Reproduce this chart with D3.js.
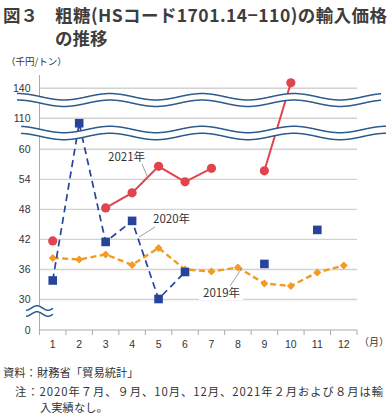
<!DOCTYPE html>
<html><head><meta charset="utf-8">
<script src="https://cdn.jsdelivr.net/npm/d3@7/dist/d3.min.js"></script>
<style>
html,body{margin:0;padding:0;background:#fff;}
svg{display:block;font-family:"Noto Sans CJK JP","Noto Sans",sans-serif;}
</style></head>
<body>
<svg id="c" width="390" height="414"></svg>
<script>
const months = [1,2,3,4,5,6,7,8,9,10,11,12];
const yTicks = [0,30,36,42,48,54,60,110,140];
const v2019 = [38.3,38.0,39.0,36.9,40.3,36.0,35.6,36.4,33.2,32.7,35.4,36.8];
const v2020 = [33.8,102,41.5,45.7,30.1,35.5,null,null,37.1,null,43.9,null];
const v2021 = [41.7,null,48.3,51.3,56.6,53.5,56.2,null,55.7,145.5,null,null];
const seriesNames = ["2019年","2020年","2021年"];

const svg = d3.select("#c");
const textCol = "#333";

// title
svg.append("text").attr("x",3).attr("y",22).attr("font-size",17.5).attr("font-weight","bold").attr("fill","#3d3d3d").text("図３");
const t1 = svg.append("text").attr("x",55).attr("y",22).attr("font-size",17.5).attr("font-weight","bold").attr("fill","#3d3d3d")
  .text("粗糖(HSコード1701.14−110)の輸入価格");
const w = t1.node().getComputedTextLength();
if (Math.abs(w-332) > 4) t1.attr("textLength",332).attr("lengthAdjust","spacing");
svg.append("text").attr("x",55).attr("y",45).attr("font-size",17.5).attr("font-weight","bold").attr("fill","#3d3d3d").text("の推移");

svg.append("text").attr("x",6).attr("y",65).attr("font-size",9.5).attr("fill",textCol).text("（千円/トン）");

// scales
const x = d3.scaleBand().domain(months).range([39.5,357]);
const y = d3.scaleLinear().domain([0,30,60,110,140]).range([330,299.5,149.3,118.3,88.3]);
const cx = m => x(m) + x.bandwidth()/2;

// gridlines
const grid = svg.append("g");
yTicks.filter(t=>t>0).forEach(t=>{
  grid.append("line").attr("x1",39.5).attr("x2",357).attr("y1",y(t)).attr("y2",y(t))
    .attr("stroke","#d2d2d2").attr("stroke-width",1.4);
});

// y axis
const yAxis = d3.axisLeft(y).tickValues(yTicks).tickSize(0).tickPadding(9);
const yg = svg.append("g").attr("transform","translate(39.5,0)").call(yAxis);
yg.select(".domain").attr("d","M0,75V330").attr("stroke","#aaa").attr("stroke-width",1);
yg.selectAll("text").attr("font-size",10.5).attr("fill",textCol).attr("font-family","Liberation Sans, Arial, sans-serif");

// x axis
const xAxis = d3.axisBottom(x).tickSize(0).tickPadding(11);
const xg = svg.append("g").attr("transform","translate(0,330)").call(xAxis);
xg.select(".domain").attr("d","M39.5,0H357").attr("stroke","#aaa").attr("stroke-width",1);
xg.selectAll("text").attr("font-size",10.5).attr("fill",textCol).attr("font-family","Liberation Sans, Arial, sans-serif");
months.concat([13]).forEach((m,i)=>{
  const xx = 39.5 + i*x.bandwidth();
  xg.append("line").attr("x1",xx).attr("x2",xx).attr("y1",0).attr("y2",5).attr("stroke","#aaa");
});
svg.append("text").attr("x",359).attr("y",346).attr("font-size",10).attr("fill",textCol).text("（月）");

// series
const line = d3.line().defined(d=>d.v!=null).x(d=>cx(d.m)).y(d=>y(d.v));
const toPts = arr => months.map((m,i)=>({m, v:arr[i]}));

// 2019
const p19 = toPts(v2019);
svg.append("path").attr("d",line(p19)).attr("fill","none").attr("stroke","#f29a22").attr("stroke-width",2.4).attr("stroke-dasharray","6,3.5");
svg.selectAll(".d19").data(p19.filter(d=>d.v!=null)).enter().append("path")
  .attr("d",d3.symbol(d3.symbolDiamond2 || d3.symbolDiamond, 40))
  .attr("transform",d=>`translate(${cx(d.m)},${y(d.v)})`).attr("fill","#f29a22");

// 2020
const p20 = toPts(v2020);
svg.append("path").attr("d",line(p20)).attr("fill","none").attr("stroke","#27449b").attr("stroke-width",1.7).attr("stroke-dasharray","7,4.5");
svg.selectAll(".d20").data(p20.filter(d=>d.v!=null)).enter().append("rect")
  .attr("x",d=>cx(d.m)-4.3).attr("y",d=>y(d.v)-4.3).attr("width",8.6).attr("height",8.6).attr("fill","#27449b");

// 2021
const p21 = toPts(v2021);
svg.append("path").attr("d",line(p21)).attr("fill","none").attr("stroke","#e0454f").attr("stroke-width",2);
svg.selectAll(".d21").data(p21.filter(d=>d.v!=null)).enter().append("circle")
  .attr("cx",d=>cx(d.m)).attr("cy",d=>y(d.v)).attr("r",4.6).attr("fill","#e0454f");

// wave breaks
function wave(x0,x1,yc,amp,period,phase){
  return d3.range(x0,x1+0.5,1).map(xx=>[xx, yc - amp*Math.cos((xx-phase)/period*2*Math.PI)]);
}
function waveBand(x0,x1,yc,gap,amp,period,phase){
  const top = wave(x0,x1,yc-gap/2,amp,period,phase);
  const bot = wave(x0,x1,yc+gap/2,amp,period,phase);
  const area = top.concat(bot.slice().reverse());
  svg.append("path").attr("d",d3.line()(area)+"Z").attr("fill","#fff");
  [top,bot].forEach(p=>svg.append("path").attr("d",d3.line().curve(d3.curveBasis)(p)).attr("fill","none").attr("stroke","#2b5b8c").attr("stroke-width",1.5));
}
waveBand(17,381,100,6.5,3.2,92,18);
waveBand(21,386,133,7,3.2,92,18);
waveBand(26,53,311,6,2.3,22,37);

// labels
function label(txt,tx,ty,lx1,ly1,lx2,ly2,bg){
  svg.append("line").attr("x1",lx1).attr("y1",ly1).attr("x2",lx2).attr("y2",ly2).attr("stroke","#888").attr("stroke-width",0.8);
  if(bg) svg.append("rect").attr("x",tx-4).attr("y",ty-11).attr("width",44).attr("height",14).attr("fill","#fff");
  svg.append("text").attr("x",tx).attr("y",ty).attr("font-size",11.5).attr("fill",textCol).text(txt);
}
label(seriesNames[2],108,161,142,164,148,178,true);
label(seriesNames[1],153,223,155,227,139,237,false);
label(seriesNames[0],203,297,230,286,242,268,true);

// footer
svg.append("text").attr("x",3).attr("y",377).attr("font-size",11.3).attr("fill",textCol).text("資料：財務省「貿易統計」");
svg.append("text").attr("x",15).attr("y",396).attr("font-size",11.3).attr("fill",textCol)
  .attr("textLength",368).attr("lengthAdjust","spacing")
  .text("注：2020年７月、９月、10月、12月、2021年２月および８月は輸");
svg.append("text").attr("x",40).attr("y",412).attr("font-size",11.3).attr("fill",textCol).text("入実績なし。");
</script>
</body></html>
